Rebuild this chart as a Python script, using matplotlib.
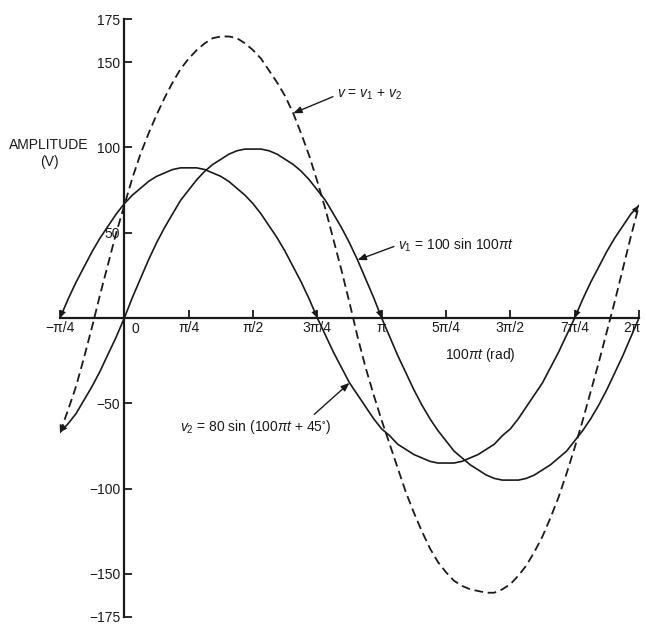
import numpy as np
import matplotlib
matplotlib.use("Agg")
import matplotlib.pyplot as plt
from matplotlib.transforms import ScaledTranslation

BASE, FS = 'Liberation Sans', 10
plt.rcParams['font.family'] = [BASE, 'DejaVu Sans']
plt.rcParams['mathtext.fontset'] = 'custom'
plt.rcParams['mathtext.rm'] = BASE
plt.rcParams['mathtext.it'] = BASE + ':italic'
plt.rcParams['mathtext.sf'] = BASE
plt.rcParams['mathtext.fallback'] = 'stixsans'

x_steps = list(range(-8, 65))          # multiples of pi/32
v1_vals = [-67, -62, -56, -48, -40, -31, -21, -11,
           0, 12, 23, 34, 44, 53, 61, 69, 75, 81, 86, 90, 93, 96, 98, 99,
           99, 99, 98, 96, 93, 90, 86, 81, 75, 69, 61, 53, 44, 34, 23, 12, 0,
           -11, -22, -32, -42, -51, -59, -66, -72, -78, -82, -86, -89, -92, -94, -95,
           -95, -95, -94, -92, -89, -86, -82, -78, -72, -66, -59, -51, -42, -32, -22, -11, 0]
v2_vals = [0, 11, 21, 30, 39, 47, 54, 61,
           67, 72, 76, 80, 83, 85, 87, 88,
           88, 88, 87, 85, 83, 80, 76, 72, 67, 61, 54, 47, 39, 30, 21, 11, 0,
           -10, -20, -29, -38, -45, -52, -59, -65, -69, -74, -77, -80, -82, -84, -85,
           -85, -85, -84, -82, -80, -77, -74, -69, -65, -59, -52, -45, -38, -29, -20, -10, 0,
           11, 21, 30, 39, 47, 54, 61, 66]
v_vals = [-67, -54, -40, -23, -5, 14, 32, 50,
          66, 82, 96, 108, 119, 129, 138, 146, 152, 157, 161, 164, 165, 165, 164, 161,
          157, 152, 145, 138, 130, 120, 108, 95, 80, 64, 46, 28, 9,
          -11, -29, -45, -60, -74, -88, -102, -114, -125, -135, -143, -149, -154, -157,
          -159, -160, -161, -161,
          -159, -156, -151, -145, -137, -128, -117, -105, -91, -76, -60, -43, -26, -8,
          10, 29, 48, 66]

xtick_quarters = [-1, 0, 1, 2, 3, 4, 5, 6, 7, 8]
xtick_labels = ['\u2212\u03c0/4', '0', '\u03c0/4', '\u03c0/2', '3\u03c0/4', '\u03c0',
                '5\u03c0/4', '3\u03c0/2', '7\u03c0/4', '2\u03c0']
ytick_vals = [-175, -150, -100, -50, 50, 100, 150, 175]
ytick_labels = ['\u2212175', '\u2212150', '\u2212100', '\u221250', '50', '100', '150', '175']

label_v = r'$v$ = $v_1$ + $v_2$'
label_v1 = r'$v_1$ = 100 sin 100$\pi t$'
label_v2 = r'$v_2$ = 80 sin (100$\pi t$ + 45$^{\circ}$)'

# ---- figure ----
W, H = 646, 624
fig = plt.figure(figsize=(W / 100, H / 100), dpi=100)
ax = fig.add_axes([60 / W, 1 - 616.6 / H, 579 / W, 597.2 / H])

x = np.array(x_steps) * np.pi / 32
v1 = np.array(v1_vals, dtype=float)
v2 = np.array(v2_vals, dtype=float)
v = np.array(v_vals, dtype=float)

ink = '#1a1a1a'
ax.plot(x, v1, color=ink, lw=1.2, solid_joinstyle='round')
ax.plot(x, v2, color=ink, lw=1.2, solid_joinstyle='round')
ax.plot(x, v, color=ink, lw=1.3, dashes=(4.8, 2.6))

ax.set_xlim(-np.pi / 4, 2 * np.pi)
ax.set_ylim(-175, 175)

for s in ('top', 'right'):
    ax.spines[s].set_visible(False)
ax.spines['left'].set_position(('data', 0))
ax.spines['bottom'].set_position(('data', 0))
for s in ('left', 'bottom'):
    ax.spines[s].set_linewidth(1.6)
    ax.spines[s].set_color(ink)

xt = np.array(xtick_quarters) * np.pi / 4
ax.set_xticks(xt)
ax.set_xticklabels([('' if l == '0' else l) for l in xtick_labels])
ax.set_yticks(ytick_vals)
ax.set_yticklabels(ytick_labels)
ax.tick_params(axis='x', direction='in', length=6, width=1.3, pad=2,
               labelsize=FS, colors=ink)
ax.tick_params(axis='y', direction='in', length=6, width=1.3, pad=3,
               labelsize=FS, colors=ink)
xlbls = ax.get_xticklabels()
for lbl in xlbls:
    lbl.set_bbox(dict(facecolor='white', edgecolor='none', pad=2.2))
# keep the last label ("2π") inside the canvas
xlbls[-1].set_transform(xlbls[-1].get_transform()
                        + ScaledTranslation(-5 / 72, 0, fig.dpi_scale_trans))

# "0" label sits to the right of the vertical axis
ax.annotate(xtick_labels[1], xy=(0, 0), xytext=(5, -3), textcoords='offset points',
            ha='left', va='top', fontsize=FS, color=ink)

# arrowheads at curve ends
def end_arrow(xs, ys, j, k):
    ax.annotate('', xy=(xs[j], ys[j]), xytext=(xs[k], ys[k]),
                arrowprops=dict(arrowstyle='-|>,head_length=0.55,head_width=0.22',
                                lw=0.01, color=ink, shrinkA=0, shrinkB=0,
                                mutation_scale=10))

end_arrow(x, v2, 0, 2)
end_arrow(x, v1, 0, 2)
end_arrow(x, v, 0, 2)
end_arrow(x, v2, 32, 30)
end_arrow(x, v1, 40, 38)
end_arrow(x, v2, 64, 66)
end_arrow(x, v2, 72, 70)

# curve labels with pointers
ap = dict(arrowstyle='-|>,head_length=0.5,head_width=0.2', lw=1.0, color=ink,
          shrinkA=1, shrinkB=0, mutation_scale=10)
ax.annotate(label_v, xy=(x[29], v[29]), xytext=(337, H - 95), textcoords='figure pixels',
            ha='left', va='center', fontsize=FS, color=ink,
            arrowprops=dict(ap, relpos=(0, 0.5)))
ax.annotate(label_v1, xy=(x[37], v1[37]), xytext=(398, H - 245), textcoords='figure pixels',
            ha='left', va='center', fontsize=FS, color=ink,
            arrowprops=dict(ap, relpos=(0, 0.5)))
ax.annotate(label_v2, xy=(x[36], v2[36]), xytext=(180, H - 427), textcoords='figure pixels',
            ha='left', va='center', fontsize=FS, color=ink,
            arrowprops=dict(ap, relpos=(0.86, 1.0)))

fig.text(49 / W, 1 - 145 / H, 'AMPLITUDE', ha='center', va='center', fontsize=FS, color=ink)
fig.text(49 / W, 1 - 162 / H, '(V)', ha='center', va='center', fontsize=FS, color=ink)
fig.text(480 / W, 1 - 355 / H, r'100$\pi t$ (rad)', ha='center', va='center',
         fontsize=FS, color=ink)

fig.savefig('out.png', dpi=100, facecolor='white')
